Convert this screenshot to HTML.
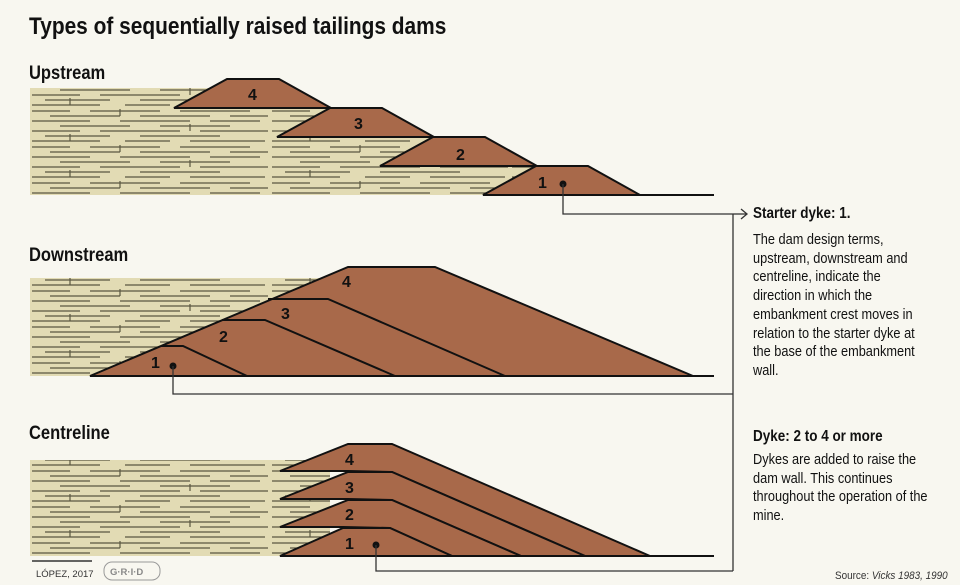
<!DOCTYPE html>
<html><head><meta charset="utf-8"><style>
html,body{margin:0;padding:0;background:#f8f7f0;}
body{width:960px;height:585px;overflow:hidden;position:relative;font-family:"Liberation Sans",sans-serif;}
svg{position:absolute;left:0;top:0}
.t{position:absolute;color:#111;white-space:nowrap;transform-origin:0 0;}
.h{font-weight:bold;transform:scaleX(0.87);}
.p{font-size:14.5px;line-height:18.7px;transform:scaleX(0.88);}
</style></head><body>
<svg width="960" height="585" viewBox="0 0 960 585">
<defs>
<pattern id="sand" x="30" y="0" width="240" height="36" patternUnits="userSpaceOnUse">
<rect width="240" height="36" fill="#e2dbb4"/>
<g stroke="#5a5640" stroke-width="1.2">
<line x1="2" y1="3" x2="40" y2="3"/><line x1="60" y1="3" x2="130" y2="3"/><line x1="150" y1="3" x2="220" y2="3"/>
<line x1="20" y1="8" x2="90" y2="8"/><line x1="110" y1="8" x2="180" y2="8"/><line x1="200" y1="8" x2="238" y2="8"/>
<line x1="2" y1="13" x2="60" y2="13"/><line x1="90" y1="13" x2="160" y2="13"/><line x1="180" y1="13" x2="230" y2="13"/>
<line x1="30" y1="18" x2="100" y2="18"/><line x1="130" y1="18" x2="200" y2="18"/>
<line x1="2" y1="23" x2="50" y2="23"/><line x1="70" y1="23" x2="150" y2="23"/><line x1="170" y1="23" x2="238" y2="23"/>
<line x1="15" y1="28" x2="80" y2="28"/><line x1="110" y1="28" x2="190" y2="28"/>
<line x1="2" y1="33" x2="70" y2="33"/><line x1="95" y1="33" x2="140" y2="33"/><line x1="160" y1="33" x2="235" y2="33"/>
<line x1="90" y1="8" x2="90" y2="1"/><line x1="160" y1="23" x2="160" y2="16"/><line x1="40" y1="33" x2="40" y2="26"/>
</g>
</pattern>
</defs>
<!-- Upstream -->
<polygon points="30,88 210,88 174,108 330,108 277,137 433,137 380,166 536,166 483,195 30,195" fill="url(#sand)"/>
<g fill="#a8694a" stroke="#111" stroke-width="2">
<polygon points="174,108 227,79 279,79 331,108"/>
<polygon points="277,137 330,108 382,108 434,137"/>
<polygon points="380,166 433,137 485,137 537,166"/>
<polygon points="483,195 536,166 588,166 640,195"/>
</g>
<line x1="483" y1="195" x2="714" y2="195" stroke="#111" stroke-width="2"/>
<g font-family="Liberation Sans,sans-serif" font-weight="bold" font-size="16" fill="#111">
<text x="248" y="100">4</text><text x="354" y="129">3</text><text x="456" y="160">2</text><text x="538" y="188">1</text>
</g>
<circle cx="563" cy="184" r="3.5" fill="#111"/>
<polyline points="563,184 563,214 733,214" fill="none" stroke="#333" stroke-width="1.3"/>
<!-- Downstream -->
<polygon points="30,278 335,278 90,376 30,376" fill="url(#sand)"/>
<polygon points="90,376 348,267 435,267 693,376" fill="#a8694a" stroke="#111" stroke-width="2"/>
<g fill="none" stroke="#111" stroke-width="2">
<polyline points="161,346 183,346 247,376"/>
<polyline points="222,320 265,320 395,376"/>
<polyline points="268,299 328,299 505,376"/>
</g>
<line x1="90" y1="376" x2="714" y2="376" stroke="#111" stroke-width="2"/>
<g font-family="Liberation Sans,sans-serif" font-weight="bold" font-size="16" fill="#111">
<text x="342" y="287">4</text><text x="281" y="319">3</text><text x="219" y="342">2</text><text x="151" y="368">1</text>
</g>
<circle cx="173" cy="366" r="3.5" fill="#111"/>
<polyline points="173,366 173,394 733,394" fill="none" stroke="#333" stroke-width="1.3"/>
<!-- Centreline -->
<rect x="30" y="460" width="300" height="96" fill="url(#sand)"/>
<g fill="#a8694a" stroke="#111" stroke-width="2" stroke-linejoin="miter">
<polygon points="280,471 348,444 392,444 650,556 585,556 392,472 348,471"/>
<polygon points="280,499 348,472 392,472 585,556 521,556 392,500 348,499"/>
<polygon points="280,527 348,500 392,500 521,556 452,556 390,528 343,527"/>
<polygon points="280,556 343,528 390,528 452,556"/>
</g>
<line x1="280" y1="556" x2="714" y2="556" stroke="#111" stroke-width="2"/>
<g font-family="Liberation Sans,sans-serif" font-weight="bold" font-size="16" fill="#111">
<text x="345" y="465">4</text><text x="345" y="493">3</text><text x="345" y="520">2</text><text x="345" y="549">1</text>
</g>
<circle cx="376" cy="545" r="3.5" fill="#111"/>
<polyline points="376,545 376,571 733,571" fill="none" stroke="#333" stroke-width="1.3"/>
<line x1="733" y1="214" x2="733" y2="571" stroke="#333" stroke-width="1.3"/>
<polyline points="733,214 746,214" fill="none" stroke="#333" stroke-width="1.3"/>
<polyline points="741,209 747,214 741,219" fill="none" stroke="#333" stroke-width="1.3"/>
<!-- footer -->
<line x1="32" y1="561" x2="92" y2="561" stroke="#333" stroke-width="1.5"/>
<text x="36" y="577" font-family="Liberation Sans,sans-serif" font-size="9.5" fill="#333">LÓPEZ, 2017</text>
<rect x="104" y="562" width="56" height="18" rx="8" fill="none" stroke="#999" stroke-width="1"/>
<text x="110" y="575" font-family="Liberation Sans,sans-serif" font-size="9.5" font-weight="bold" fill="#888">G·R·I·D</text>
</svg>
<div class="t h" style="left:29px;top:13px;font-size:24px;">Types of sequentially raised tailings dams</div>
<div class="t h" style="left:29px;top:63px;font-size:19px;">Upstream</div>
<div class="t h" style="left:29px;top:245px;font-size:19px;">Downstream</div>
<div class="t h" style="left:29px;top:423px;font-size:19px;">Centreline</div>
<div class="t h" style="left:753px;top:205px;font-size:15.5px;">Starter dyke: 1.</div>
<div class="t p" style="left:753px;top:231px;">The dam design terms,<br>upstream, downstream and<br>centreline, indicate the<br>direction in which the<br>embankment crest moves in<br>relation to the starter dyke at<br>the base of the embankment<br>wall.</div>
<div class="t h" style="left:753px;top:428px;font-size:15.5px;">Dyke: 2 to 4 or more</div>
<div class="t p" style="left:753px;top:451px;">Dykes are added to raise the<br>dam wall. This continues<br>throughout the operation of the<br>mine.</div>
<div class="t" style="left:835px;top:570px;font-size:11px;color:#333;transform:scaleX(0.9);">Source: <i>Vicks 1983, 1990</i></div>
</body></html>
